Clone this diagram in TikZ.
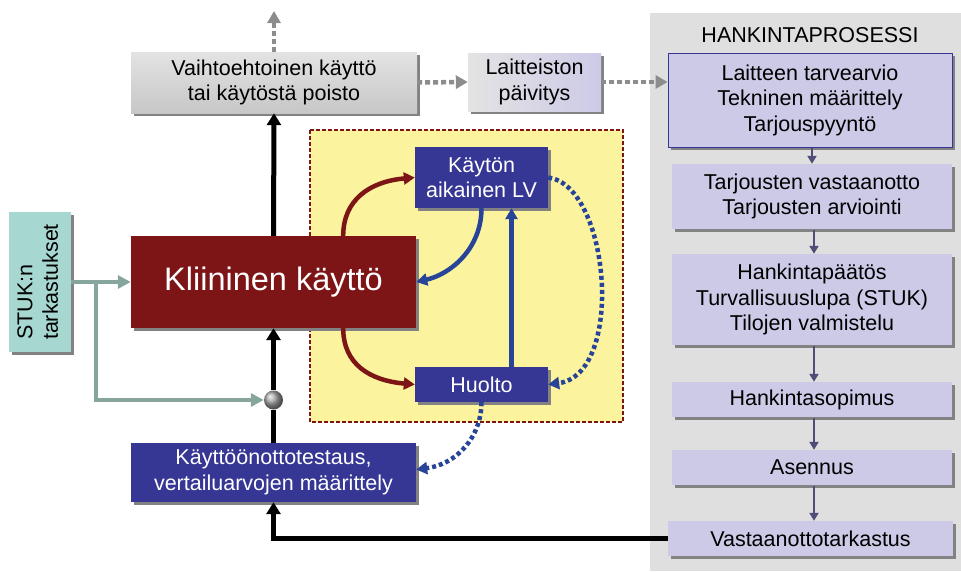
\documentclass[tikz,border=0pt]{standalone}
\usepackage{fontspec}
\setmainfont{Liberation Sans}
\usetikzlibrary{arrows.meta,shadows}
\definecolor{klinred}{RGB}{125,21,23}
\definecolor{boxblue}{RGB}{54,54,148}
\definecolor{arrblue}{RGB}{40,68,152}
\definecolor{lavender}{RGB}{205,202,231}
\definecolor{stukteal}{RGB}{167,215,209}
\definecolor{stukline}{RGB}{134,165,157}
\definecolor{areayellow}{RGB}{251,243,157}
\definecolor{panelgray}{RGB}{223,223,223}
\definecolor{dotgray}{RGB}{140,140,140}
\definecolor{steparrow}{RGB}{80,78,120}
\definecolor{shadowgray}{RGB}{130,130,130}

\begin{document}
\begin{tikzpicture}[x=1pt,y=-1pt,
  every node/.style={font=\fontsize{21.5}{25.5}\selectfont,align=center,inner sep=0pt},
  boxshadow/.style={drop shadow={shadow xshift=3pt,shadow yshift=-3pt,fill=shadowgray,opacity=1}},
  graybox/.style={rectangle,top color=black!11,bottom color=black!22,boxshadow},
  updbox/.style={rectangle,left color=black!11,right color=lavender,boxshadow},
  procbox/.style={rectangle,fill=lavender,boxshadow},
  bluebox/.style={rectangle,fill=boxblue,text=white,boxshadow},
  klinbox/.style={rectangle,fill=klinred,text=white,boxshadow,font=\fontsize{32.5}{38}\selectfont},
  stukbox/.style={rectangle,fill=stukteal,boxshadow},
  blkline/.style={line width=5pt,black},
  blkflow/.style={blkline,-{Triangle[width=14pt,length=12pt]}},
  grayflow/.style={dotgray,line width=4.5pt,dash pattern=on 5pt off 3pt,-{Triangle[width=13pt,length=12pt]}},
  grnflow/.style={stukline,line width=4.5pt,-{Triangle[width=13pt,length=13pt]}},
  redflow/.style={klinred,line width=4.5pt,-{Triangle[width=12pt,length=11pt]}},
  blueflow/.style={arrblue,line width=4.5pt,-{Triangle[width=12pt,length=11pt]}},
  bluedots/.style={blueflow,dash pattern=on 4pt off 3pt},
  stepflow/.style={steparrow,line width=2.5pt,-{Triangle[width=9pt,length=8pt]}}]
\useasboundingbox (0,0) rectangle (961,571);

% hankintaprosessi
\fill[panelgray] (650,13) rectangle (961,571);
\node (title) at (810,35) {HANKINTAPROSESSI};
\node[procbox,draw=boxblue,line width=0.8pt,minimum width=284pt,minimum height=94pt] (tarve) at (810,100) {Laitteen tarvearvio\\Tekninen määrittely\\Tarjouspyyntö};
\node[procbox,minimum width=280pt,minimum height=65pt] (tarjous) at (812,196.5) {Tarjousten vastaanotto\\Tarjousten arviointi};
\node[procbox,minimum width=280pt,minimum height=91pt] (paatos) at (812,299.5) {Hankintapäätös\\Turvallisuuslupa (STUK)\\Tilojen valmistelu};
\node[procbox,minimum width=280pt,minimum height=35pt] (sopimus) at (812,399.5) {Hankintasopimus};
\node[procbox,minimum width=280pt,minimum height=35pt] (asennus) at (812,467.5) {Asennus};
\node[procbox,minimum width=285pt,minimum height=35pt] (vastaan) at (810.5,538.5) {Vastaanottotarkastus};
\foreach \a/\b in {tarve/tarjous,tarjous/paatos,paatos/sopimus,sopimus/asennus,asennus/vastaan}
  \draw[stepflow] ([xshift=2pt,yshift=-1pt]\a.south) -- ([xshift=2pt]\a.south |- \b.north);

% kayton aikainen alue
\filldraw[fill=areayellow,draw=klinred,line width=1.2pt,dash pattern=on 4pt off 2pt] (310,130) rectangle (623,422);
\node[bluebox,minimum width=133pt,minimum height=61pt] (kayton) at (481.5,177.5) {Käytön\\aikainen LV};
\node[bluebox,minimum width=133pt,minimum height=35pt] (huolto) at (481.5,384.5) {Huolto};

\node[graybox,minimum width=286pt,minimum height=61pt] (vaihto) at (274,82.5) {Vaihtoehtoinen käyttö\\tai käytöstä poisto};
\node[updbox,minimum width=133pt,minimum height=58pt] (paivitys) at (534.5,82) {Laitteiston\\päivitys};
\node[klinbox,minimum width=285pt,minimum height=92pt] (klin) at (273.5,282) {Kliininen käyttö};
\node[stukbox,minimum width=62pt,minimum height=140pt] (stuk) at (40,282) {\rotatebox{90}{\begin{tabular}{@{}l@{}}STUK:n\\tarkastukset\end{tabular}}};
\node[bluebox,minimum width=285pt,minimum height=59pt] (testaus) at (273.5,472.5) {Käyttöönottotestaus,\\vertailuarvojen määrittely};
\node[circle,shading=ball,ball color=black!35,minimum size=19pt] (joint) at (273.5,400) {};
\coordinate (exit) at (274,11);
\coordinate (split) at (96,282);

\draw[grayflow] (vaihto.north) -- (exit);
\draw[grayflow] (vaihto.east) -- (paivitys.west);
\draw[grayflow] (paivitys.east) -- (paivitys.east -| tarve.west);
\draw[blkflow] (klin.north) -- (vaihto.south);
\draw[blkflow] (joint) -- (klin.south);
\draw[blkline] (testaus.north) -- (joint);
\draw[blkflow] (vastaan.west) -| (testaus.south);
\draw[grnflow] (stuk.east) -- (klin.west);
\draw[grnflow] (split) |- (joint);

\draw[redflow] ([xshift=-73pt]klin.north east) .. controls +(0,-36) and +(-45,4) .. (kayton.west);
\draw[redflow] ([xshift=-73pt]klin.south east) .. controls +(0,36) and +(-45,-4) .. (huolto.west);
\draw[blueflow] (kayton.south) .. controls +(0,40) and +(35,-8) .. (klin.east);
\draw[blueflow] ([xshift=30pt]huolto.north) -- ([xshift=30pt]kayton.south);
\draw[bluedots] (kayton.east) .. controls +(62,8) and +(77,-10) .. (huolto.east);
\draw[bluedots] (huolto.south) .. controls +(0,35) and +(40,-5) .. ([yshift=3pt]testaus.east);
\end{tikzpicture}
\end{document}
